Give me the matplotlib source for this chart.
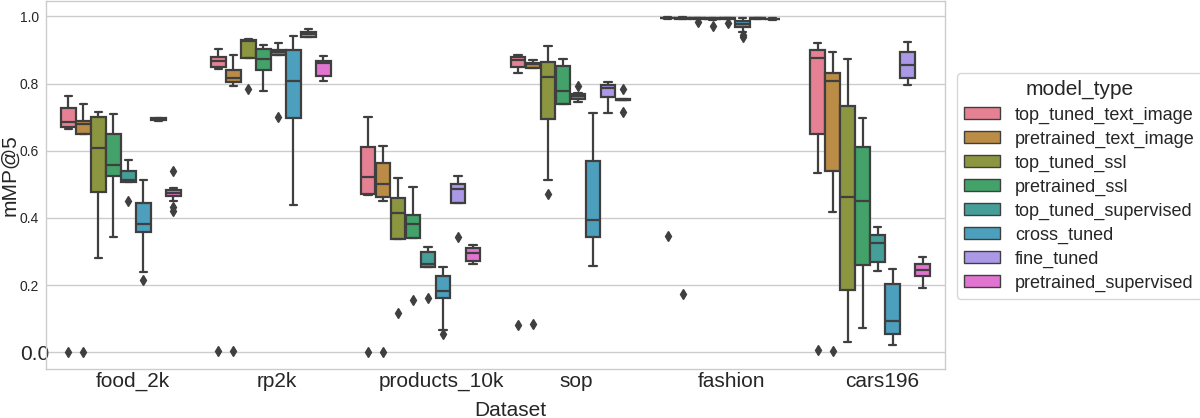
import matplotlib
matplotlib.use("Agg")
import matplotlib.pyplot as plt
import matplotlib.transforms as mtransforms
from matplotlib.patches import Patch
import seaborn as sns

DATASETS = ["food_2k", "rp2k", "products_10k", "sop", "fashion", "cars196"]
MODEL_TYPES = ["top_tuned_text_image", "pretrained_text_image", "top_tuned_ssl",
               "pretrained_ssl", "top_tuned_supervised", "cross_tuned",
               "fine_tuned", "pretrained_supervised"]

# box statistics, one row per dataset, one column per model type
Q1 = [
    [0.672, 0.649, 0.478, 0.526, 0.508, 0.359, 0.692, 0.465],
    [0.849, 0.806, 0.877, 0.840, 0.885, 0.698, 0.940, 0.822],
    [0.472, 0.461, 0.336, 0.339, 0.253, 0.160, 0.445, 0.273],
    [0.850, 0.846, 0.694, 0.738, 0.753, 0.344, 0.761, 0.751],
    [0.994, 0.993, 0.993, 0.992, 0.993, 0.968, 0.993, 0.991],
    [0.651, 0.539, 0.184, 0.261, 0.268, 0.053, 0.817, 0.226],
]
MED = [
    [0.686, 0.680, 0.607, 0.558, 0.514, 0.382, 0.694, 0.475],
    [0.868, 0.818, 0.928, 0.872, 0.895, 0.807, 0.949, 0.861],
    [0.523, 0.502, 0.415, 0.382, 0.262, 0.182, 0.485, 0.295],
    [0.870, 0.858, 0.819, 0.778, 0.763, 0.395, 0.787, 0.752],
    [0.995, 0.995, 0.994, 0.993, 0.994, 0.978, 0.994, 0.992],
    [0.877, 0.808, 0.463, 0.449, 0.324, 0.093, 0.855, 0.244],
]
Q3 = [
    [0.726, 0.689, 0.702, 0.651, 0.540, 0.444, 0.697, 0.484],
    [0.878, 0.841, 0.930, 0.904, 0.901, 0.900, 0.953, 0.867],
    [0.611, 0.564, 0.460, 0.408, 0.297, 0.226, 0.501, 0.311],
    [0.880, 0.862, 0.864, 0.852, 0.769, 0.569, 0.797, 0.753],
    [0.996, 0.996, 0.995, 0.995, 0.995, 0.987, 0.995, 0.993],
    [0.900, 0.832, 0.733, 0.612, 0.348, 0.203, 0.894, 0.264],
]
WHISK_LO = [
    [0.665, 0.649, 0.280, 0.343, 0.506, 0.239, 0.690, 0.451],
    [0.843, 0.794, 0.877, 0.777, 0.884, 0.438, 0.940, 0.808],
    [0.467, 0.451, 0.336, 0.339, 0.253, 0.067, 0.445, 0.264],
    [0.833, 0.846, 0.512, 0.738, 0.744, 0.256, 0.713, 0.752],
    [0.992, 0.991, 0.992, 0.990, 0.991, 0.953, 0.992, 0.989],
    [0.533, 0.419, 0.029, 0.072, 0.241, 0.022, 0.796, 0.192],
]
WHISK_HI = [
    [0.764, 0.738, 0.716, 0.708, 0.573, 0.514, 0.698, 0.488],
    [0.904, 0.886, 0.932, 0.916, 0.921, 0.941, 0.962, 0.881],
    [0.701, 0.613, 0.518, 0.491, 0.313, 0.255, 0.524, 0.319],
    [0.886, 0.871, 0.912, 0.872, 0.772, 0.711, 0.804, 0.753],
    [0.997, 0.997, 0.996, 0.996, 0.996, 0.995, 0.996, 0.994],
    [0.921, 0.894, 0.874, 0.698, 0.374, 0.248, 0.923, 0.285],
]
FLIERS = [
    [[0.001], [0.001], [], [], [0.449], [0.216], [], [0.541, 0.432, 0.420]],
    [[0.004], [0.004], [0.784], [], [0.700], [], [], []],
    [[0.0], [0.0], [0.118], [0.155], [0.160], [0.053], [0.344], []],
    [[0.080], [0.083], [0.470], [], [0.793], [], [], [0.784, 0.716]],
    [[0.345], [0.174], [0.983], [0.973], [0.981], [0.945, 0.940], [], []],
    [[0.008], [0.003], [], [], [], [], [], []],
]
Y_TICKS = [0.0, 0.2, 0.4, 0.6, 0.8, 1.0]

GRAY = "#3f3f3f"

sns.set_style("whitegrid")
plt.rcParams["font.family"] = ["Liberation Sans", "DejaVu Sans"]

colors = [sns.desaturate(c, 0.75) for c in sns.color_palette("husl", len(MODEL_TYPES))]

fig = plt.figure(figsize=(12, 4.18), dpi=100)
ax = fig.add_axes([46 / 1200, 1 - 369 / 418, 899 / 1200, 368 / 418])

n_hue = len(MODEL_TYPES)
for j, mt in enumerate(MODEL_TYPES):
    stats = []
    for i in range(len(DATASETS)):
        stats.append(dict(q1=Q1[i][j], med=MED[i][j], q3=Q3[i][j],
                          whislo=WHISK_LO[i][j], whishi=WHISK_HI[i][j],
                          fliers=FLIERS[i][j]))
    pos = [i + (j - (n_hue - 1) / 2) * 0.1 for i in range(len(DATASETS))]
    ax.bxp(stats, positions=pos, widths=0.098, patch_artist=True, manage_ticks=False,
           boxprops=dict(facecolor=colors[j], edgecolor=GRAY, linewidth=1.6),
           medianprops=dict(color=GRAY, linewidth=1.6),
           whiskerprops=dict(color=GRAY, linewidth=1.6),
           capprops=dict(color=GRAY, linewidth=1.6),
           flierprops=dict(marker="d", markersize=5, markerfacecolor=GRAY,
                           markeredgecolor=GRAY, linestyle="none"))

ax.set_xlim(-0.5, len(DATASETS) - 0.5)
ax.set_ylim(-0.05, 1.046)
ax.set_xticks(range(len(DATASETS)))
ax.set_xticklabels(DATASETS)
ax.set_yticks(Y_TICKS)
ax.set_yticklabels([f"{v:.1f}" for v in Y_TICKS])
ax.xaxis.grid(False)
ax.yaxis.grid(True, color="#cccccc", linewidth=1)
ax.set_axisbelow(True)
for s in ax.spines.values():
    s.set_color("#cccccc")
    s.set_linewidth(1)

ax.tick_params(axis="x", length=0, pad=2, labelsize=15, colors="#262626")
ax.tick_params(axis="y", length=0, pad=5, labelsize=10, colors="#262626")
ax.get_yticklabels()[0].set_fontsize(15)

ax.set_xlabel("Dataset", fontsize=15, color="#262626")
ax.set_ylabel("mMP@5", fontsize=15, color="#262626")
ax.xaxis.set_label_coords(0.516, -0.088)
ax.yaxis.set_label_coords(-0.030, 0.526)

handles = [Patch(facecolor=c, edgecolor=GRAY, linewidth=1) for c in colors]
ax.legend(handles, MODEL_TYPES, title="model_type", loc="upper left",
          bbox_to_anchor=(957 / 1200, 1 - 73 / 418), bbox_transform=fig.transFigure,
          borderaxespad=0, fontsize=13, title_fontsize=15, handlelength=2.0,
          handleheight=0.65, handletextpad=0.8, labelspacing=0.38)

# labels sit where a 10pt label would start, but are drawn larger
fig.canvas.draw()
renderer = fig.canvas.get_renderer()


def keep_start(text, small, factor):
    big = text.get_fontsize()
    text.set_fontsize(small)
    w0 = text.get_window_extent(renderer).width
    text.set_fontsize(big)
    w1 = text.get_window_extent(renderer).width
    dx = (w1 - w0) * factor
    text.set_transform(text.get_transform() + mtransforms.Affine2D().translate(dx, 0))


for lab in ax.get_xticklabels():
    keep_start(lab, 10, 0.5)
keep_start(ax.get_yticklabels()[0], 10, 1.0)

fig.savefig("out.png", dpi=100)
